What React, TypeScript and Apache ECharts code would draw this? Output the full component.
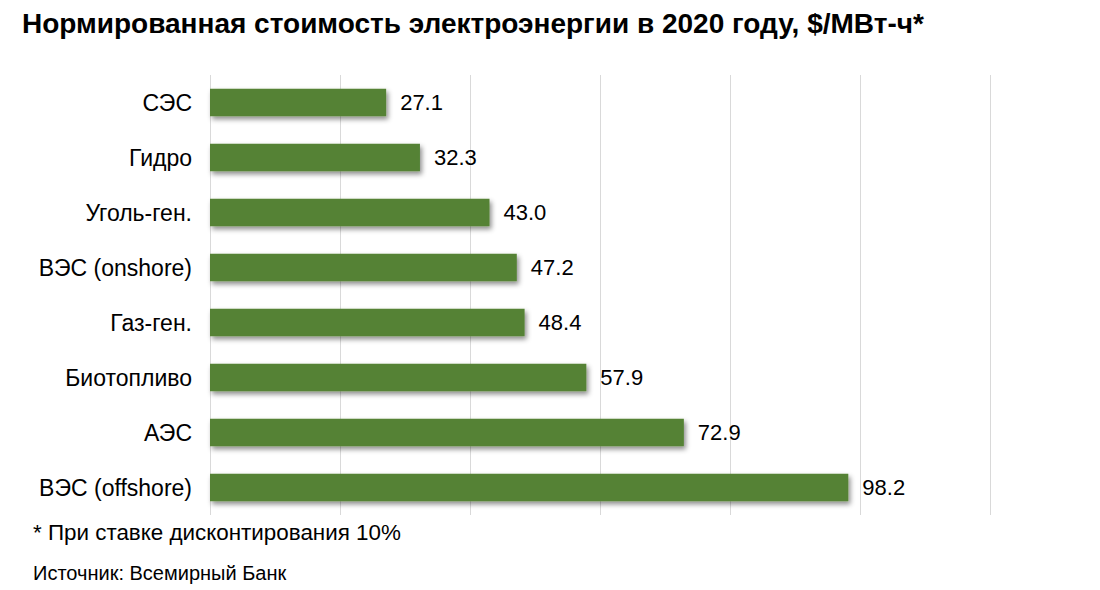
import React, { useEffect, useRef } from "react";
import * as echarts from "echarts";

const categories = [
  "СЭС",
  "Гидро",
  "Уголь-ген.",
  "ВЭС (onshore)",
  "Газ-ген.",
  "Биотопливо",
  "АЭС",
  "ВЭС (offshore)",
];
const values = [27.1, 32.3, 43.0, 47.2, 48.4, 57.9, 72.9, 98.2];

const titleText = "Нормированная стоимость электроэнергии в 2020 году, $/МВт-ч*";
const footnoteText = "* При ставке дисконтирования 10%";
const sourceText = "Источник: Всемирный Банк";

const FONT = "'Liberation Sans', Arial, sans-serif";

export default function App() {
  const ref = useRef<HTMLDivElement>(null);
  useEffect(() => {
    document.body.style.margin = "0";
    const chart = echarts.init(ref.current!, null, { renderer: "svg" });
    chart.setOption({
      animation: false,
      backgroundColor: "#ffffff",
      textStyle: { fontFamily: FONT },
      graphic: [
        {
          type: "text",
          left: 22,
          top: 9,
          style: {
            text: titleText,
            font: `bold 28px ${FONT}`,
            fill: "#000",
          },
        },
        {
          type: "text",
          left: 33,
          top: 521,
          style: {
            text: footnoteText,
            font: `22.4px ${FONT}`,
            fill: "#000",
          },
        },
        {
          type: "text",
          left: 33,
          top: 563,
          style: {
            text: sourceText,
            font: `20px ${FONT}`,
            fill: "#000",
          },
        },
      ],
      grid: { left: 210, right: 110, top: 75, bottom: 75, containLabel: false },
      xAxis: {
        type: "value",
        min: 0,
        max: 120,
        interval: 20,
        axisLabel: { show: false },
        axisLine: { show: false },
        axisTick: { show: false },
        splitLine: { show: true, lineStyle: { color: "#d9d9d9", width: 1 } },
      },
      yAxis: {
        type: "category",
        data: categories,
        inverse: true,
        axisLine: { show: false },
        axisTick: { show: false },
        axisLabel: { fontFamily: FONT, fontSize: 23, color: "#000", margin: 18 },
      },
      series: [
        {
          type: "bar",
          data: values,
          barWidth: "50%",
          itemStyle: {
            color: "#548235",
            shadowColor: "rgba(0,0,0,0.45)",
            shadowBlur: 5,
            shadowOffsetX: 2,
            shadowOffsetY: 3,
          },
          label: {
            show: true,
            position: "right",
            distance: 14,
            fontFamily: FONT,
            fontSize: 22,
            color: "#000",
            formatter: (p: any) => Number(p.value).toFixed(1),
          },
        },
      ],
    });
    return () => chart.dispose();
  }, []);
  return (
    <div
      ref={ref}
      style={{ width: 1100, height: 590, position: "absolute", left: 0, top: 0 }}
    />
  );
}
